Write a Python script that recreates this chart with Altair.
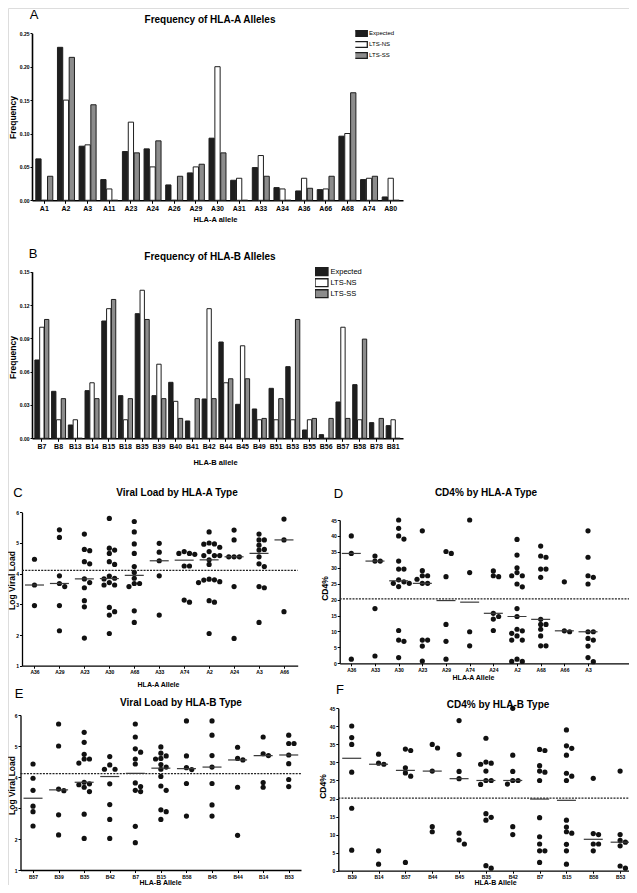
import json
import altair as alt
import pandas as pd

FONT = "Liberation Sans"
W, H = 621, 877

SERIES = ["Expected", "LTS-NS", "LTS-SS"]
SERIES_COLORS = ["#1e1e1e", "#ffffff", "#8c8c8c"]

# ---------------- Panel A : HLA-A allele frequencies ----------------
A_alleles = ["A1", "A2", "A3", "A11", "A23", "A24", "A26", "A29", "A30", "A31",
             "A33", "A34", "A36", "A66", "A68", "A74", "A80"]
A_expected = [0.062, 0.229, 0.081, 0.031, 0.073, 0.077, 0.023, 0.041, 0.093, 0.030,
              0.049, 0.019, 0.014, 0.016, 0.096, 0.031, 0.005]
A_lts_ns = [0.0, 0.150, 0.083, 0.017, 0.117, 0.050, 0.0, 0.050, 0.200, 0.033,
            0.067, 0.017, 0.033, 0.017, 0.100, 0.033, 0.033]
A_lts_ss = [0.036, 0.214, 0.143, 0.0, 0.071, 0.089, 0.036, 0.054, 0.071, 0.0,
            0.036, 0.0, 0.018, 0.036, 0.161, 0.036, 0.0]
A_ticks = [0.0, 0.05, 0.10, 0.15, 0.20, 0.25]

# ---------------- Panel B : HLA-B allele frequencies ----------------
B_alleles = ["B7", "B8", "B13", "B14", "B15", "B18", "B35", "B39", "B40", "B41", "B42",
             "B44", "B45", "B49", "B51", "B53", "B55", "B56", "B57", "B58", "B78", "B81"]
B_expected = [0.0705, 0.0423, 0.012, 0.0429, 0.1056, 0.0384, 0.1122, 0.0384, 0.0504, 0.0156, 0.0354,
              0.0867, 0.0306, 0.0264, 0.0450, 0.0645, 0.0075, 0.0033, 0.0327, 0.0483, 0.0141, 0.0114]
B_lts_ns = [0.100, 0.0167, 0.0167, 0.050, 0.1167, 0.0167, 0.1333, 0.0667, 0.0333, 0.0, 0.1167,
            0.050, 0.0833, 0.0167, 0.0167, 0.0167, 0.0167, 0.0, 0.100, 0.0167, 0.0, 0.0167]
B_lts_ss = [0.107, 0.0357, 0.0, 0.0357, 0.125, 0.0357, 0.107, 0.0357, 0.0179, 0.0357, 0.0357,
            0.0536, 0.0536, 0.0179, 0.0357, 0.107, 0.0179, 0.0179, 0.0179, 0.0893, 0.0179, 0.0]
B_ticks = [0.0, 0.03, 0.06, 0.09, 0.12, 0.15]

# ---------------- Panel C : viral load by HLA-A ----------------
C_alleles = ["A36", "A29", "A23", "A30", "A68", "A33", "A74", "A2", "A24", "A3", "A66"]
C_values = [
    [4.47, 3.63, 2.96],
    [5.43, 5.18, 3.93, 3.68, 3.58, 2.96, 2.14],
    [5.29, 4.79, 4.75, 4.39, 4.32, 3.83, 3.71, 3.54, 3.12, 2.92, 1.90],
    [5.80, 4.83, 4.77, 4.66, 4.39, 4.30, 3.92, 3.85, 3.83, 3.71, 3.63, 3.63, 2.90, 2.76, 2.65, 2.05],
    [5.70, 5.36, 4.97, 4.66, 4.23, 4.04, 3.85, 3.68, 3.68, 3.58, 2.79, 2.41],
    [4.99, 4.70, 4.42, 3.93, 2.65],
    [4.72, 4.66, 4.66, 4.63, 4.25, 4.25, 3.14, 3.07],
    [5.36, 5.00, 4.97, 4.96, 4.86, 4.72, 4.59, 4.59, 4.59, 4.45, 4.30, 3.82, 3.80, 3.79, 3.74, 3.71, 3.12, 3.07, 2.05],
    [5.42, 5.10, 4.55, 4.55, 4.55, 3.58, 1.89],
    [5.29, 5.10, 5.10, 4.93, 4.79, 4.77, 4.55, 4.32, 4.23, 3.58, 3.54, 2.41],
    [5.78, 5.10, 2.76],
]
C_cutoff = 4.11
VL_ticks = [1, 2, 3, 4, 5, 6]

# ---------------- Panel D : CD4% by HLA-A ----------------
D_alleles = ["A36", "A33", "A30", "A23", "A29", "A74", "A24", "A2", "A68", "A66", "A3"]
D_values = [
    [40.0, 34.5, 1.3],
    [33.7, 32.1, 32.1, 17.2, 2.3],
    [45.0, 42.4, 40.0, 39.0, 32.1, 29.6, 29.6, 26.2, 25.6, 25.1, 25.1, 24.1, 10.3, 7.3, 6.9, 1.8],
    [41.6, 29.1, 27.5, 27.5, 26.4, 25.1, 25.1, 7.3, 7.3, 5.4, 0.7],
    [35.1, 34.5, 27.2, 12.2, 6.9, 1.3],
    [45.0, 28.5, 9.9, 5.5],
    [29.0, 27.5, 27.2, 15.7, 14.7, 13.9, 10.3],
    [38.9, 34.0, 30.0, 28.5, 27.5, 27.5, 24.9, 24.0, 17.2, 14.7, 10.7, 10.2, 9.4, 8.6, 7.3, 7.3, 1.3, 0.6, 0.6],
    [36.8, 33.7, 33.3, 29.6, 29.6, 27.0, 13.8, 12.2, 12.2, 10.7, 8.6, 5.5, 5.5],
    [25.6, 10.2, 9.9],
    [41.6, 33.3, 27.5, 27.0, 24.9, 9.9, 9.9, 7.8, 7.3, 5.4, 1.8, 0.5],
]
D_cutoff = 20.2
CD4_ticks = [0, 5, 10, 15, 20, 25, 30, 35, 40, 45]

# ---------------- Panel E : viral load by HLA-B ----------------
E_alleles = ["B57", "B39", "B35", "B42", "B7", "B15", "B58", "B45", "B44", "B14", "B53"]
E_values = [
    [4.42, 3.96, 3.57, 3.06, 2.88, 2.42],
    [5.71, 5.00, 3.61, 3.56, 2.78, 2.13],
    [5.44, 5.12, 4.73, 4.58, 4.58, 4.45, 3.83, 3.78, 3.75, 3.67, 3.53, 2.80, 2.02],
    [4.66, 4.39, 4.25, 4.25, 3.78, 3.11, 2.63, 2.02],
    [5.71, 5.29, 4.91, 4.80, 4.58, 4.42, 3.81, 3.69, 3.57, 3.53, 2.41, 1.88],
    [4.97, 4.77, 4.68, 4.60, 4.58, 4.40, 4.32, 4.25, 4.02, 3.71, 3.57, 2.94, 2.88, 2.63],
    [5.81, 4.68, 4.30, 4.24, 3.79, 2.74],
    [5.81, 5.35, 4.69, 4.32, 3.79, 3.10, 2.74],
    [4.96, 4.60, 4.55, 3.67, 2.12],
    [5.29, 4.75, 4.69, 3.82, 3.67],
    [5.35, 5.08, 5.08, 4.71, 4.43, 3.92, 3.69],
]
E_cutoff = 4.11

# ---------------- Panel F : CD4% by HLA-B ----------------
F_alleles = ["B39", "B14", "B57", "B44", "B45", "B35", "B42", "B7", "B15", "B58", "B53"]
F_values = [
    [40.1, 36.9, 35.0, 27.3, 17.3, 5.7],
    [32.3, 29.8, 29.5, 5.5, 1.8],
    [33.7, 33.3, 28.5, 27.1, 26.2, 2.3],
    [35.0, 34.0, 27.6, 12.2, 10.8],
    [41.6, 32.2, 27.5, 25.5, 10.4, 8.5, 7.4],
    [36.7, 30.1, 29.8, 29.5, 27.6, 25.0, 25.0, 23.9, 15.8, 14.8, 14.0, 1.4, 0.7],
    [45.0, 32.0, 27.5, 25.0, 25.0, 24.0, 12.2, 10.0],
    [33.6, 33.3, 29.1, 27.6, 27.3, 25.0, 14.7, 9.4, 7.4, 5.5, 5.5, 2.3],
    [39.0, 34.6, 33.9, 32.0, 27.0, 26.2, 25.0, 14.0, 12.1, 10.8, 10.4, 7.3, 5.5, 1.8],
    [25.6, 10.3, 10.0, 7.4, 7.4, 5.5],
    [27.6, 10.0, 8.4, 7.9, 6.9, 1.3, 0.7],
]
F_cutoff = 20.1

AX = dict(grid=False, domainColor="black", tickColor="black", labelColor="black",
          titleColor="black", labelFont=FONT, titleFont=FONT, labelFontWeight="bold",
          titleFontWeight="bold")


def bar_panel(alleles, e, ns, ss, xr, yr, ydom, yticks, pi, po, xtitle, xt_pos, yt_pos,
              leg_xy, leg_font, leg_size, leg_path, leg_offset, leg_row):
    rows = []
    for i, a in enumerate(alleles):
        for s, v in zip(SERIES, (e[i], ns[i], ss[i])):
            rows.append({"allele": a, "series": s, "freq": v})
    df = pd.DataFrame(rows)
    x = alt.X("allele:N", sort=alleles,
              scale=alt.Scale(range=list(xr), paddingInner=pi, paddingOuter=po),
              axis=alt.Axis(orient="bottom", offset=yr[0] - H, title=xtitle, labelAngle=0,
                            labelFontSize=7, tickSize=3, tickWidth=1, domainWidth=1.6,
                            labelPadding=1.5, titleFontSize=7.5, titleX=xt_pos[0],
                            titleY=xt_pos[1] - yr[0], titleAlign="center",
                            titleBaseline="middle", **AX))
    y = alt.Y("freq:Q",
              scale=alt.Scale(domain=list(ydom), range=[yr[0], yr[1]], nice=False, zero=True),
              axis=alt.Axis(orient="left", offset=-xr[0], values=yticks, format=".2f",
                            title="Frequency", labelFontSize=5, tickSize=2, domainWidth=1.6,
                            labelPadding=1, titleFontSize=8.5, titleAngle=270,
                            titleX=yt_pos[0] - xr[0], titleY=yt_pos[1], titleAlign="center",
                            titleBaseline="middle", **AX))
    xo = alt.XOffset("series:N", sort=SERIES, scale=alt.Scale(paddingInner=0.1))
    color = alt.Color("series:N", sort=SERIES,
                      scale=alt.Scale(domain=SERIES, range=SERIES_COLORS),
                      legend=alt.Legend(orient="none", legendX=leg_xy[0], legendY=leg_xy[1],
                                        title=None, symbolType=leg_path, symbolSize=leg_size,
                                        symbolStrokeColor="#1e1e1e", symbolStrokeWidth=1.3,
                                        labelFont=FONT, labelFontSize=leg_font,
                                        labelColor="black", labelOffset=leg_offset,
                                        clipHeight=leg_row, rowPadding=0, padding=0))
    return alt.Chart(df).mark_bar(stroke="#1e1e1e", strokeWidth=1).encode(
        x=x, y=y, xOffset=xo, color=color)


def swarm(vals, ppu, step, gap=5.3, diam=4.6):
    placed, out = [], []
    for v in vals:
        yy = v * ppu
        xx = 0.0
        for k in [0, 1, -1, 2, -2, 3, -3, 4, -4]:
            xx = k * gap
            if all((xx - px) ** 2 + (yy - py) ** 2 >= diam ** 2 for px, py in placed):
                break
        placed.append((xx, yy))
        out.append(xx / step)
    return out


def scatter_panel(alleles, values, cutoff, xr, xdom, yr, ydom, yticks, ytitle, yt_pos,
                  xtitle, xt_pos):
    step = (xr[1] - xr[0]) / (xdom[1] - xdom[0])
    ppu = abs(yr[0] - yr[1]) / (ydom[1] - ydom[0])
    rows = []
    for i, (a, vals) in enumerate(zip(alleles, values)):
        for v, d in zip(vals, swarm(vals, ppu, step)):
            rows.append({"allele": a, "idx": i, "xpos": i + d, "value": v})
    df = pd.DataFrame(rows)

    def xs():
        return alt.Scale(domain=list(xdom), range=list(xr), nice=False, zero=False)

    def ys():
        return alt.Scale(domain=list(ydom), range=[yr[0], yr[1]], nice=False, zero=False)

    x_axis = alt.Axis(orient="bottom", offset=yr[0] - H, values=list(range(len(alleles))),
                      labelExpr=json.dumps(alleles) + "[datum.value]", title=xtitle,
                      labelFontSize=5, tickSize=2.5, domainWidth=1.3, labelPadding=1.5,
                      titleFontSize=7, titleX=xt_pos[0], titleY=xt_pos[1] - yr[0],
                      titleAlign="center", titleBaseline="middle", **AX)
    y_axis = alt.Axis(orient="left", offset=-xr[0], values=yticks, title=ytitle,
                      labelFontSize=5, tickSize=2.5, domainWidth=1.3, labelPadding=1,
                      titleFontSize=8.5, titleAngle=270, titleX=yt_pos[0] - xr[0],
                      titleY=yt_pos[1], titleAlign="center", titleBaseline="middle", **AX)
    pts = alt.Chart(df).mark_circle(size=27, color="#111111", opacity=1).encode(
        x=alt.X("xpos:Q", scale=xs(), axis=x_axis),
        y=alt.Y("value:Q", scale=ys(), axis=y_axis))
    cut = alt.Chart(pd.DataFrame({"cut": [cutoff], "x0": [xdom[0]], "x1": [xdom[1]]})).mark_rule(
        strokeDash=[2, 1.2], strokeWidth=1.2, color="#222222").encode(
        y=alt.Y("cut:Q", scale=ys(), axis=None),
        x=alt.X("x0:Q", scale=xs(), axis=None),
        x2="x1:Q")
    med = alt.Chart(df).mark_tick(orient="horizontal", size=19, thickness=1.2,
                                  color="#3a3a3a", opacity=1).encode(
        x=alt.X("idx:Q", scale=xs(), axis=None),
        y=alt.Y("median(value):Q", scale=ys(), axis=None))
    return [pts, cut, med]


def text(t, x, y, size, weight="bold"):
    return alt.Chart(pd.DataFrame({"t": [t]})).mark_text(
        font=FONT, fontSize=size, fontWeight=weight, color="black",
        align="center", baseline="middle").encode(
        text="t:N", x=alt.value(x), y=alt.value(y))


panelA = bar_panel(A_alleles, A_expected, A_lts_ns, A_lts_ss, xr=(24, 395), yr=(192.3, 25.3),
                   ydom=(0, 0.25), yticks=A_ticks, pi=0.215, po=0.176, xtitle="HLA-A allele",
                   xt_pos=(207, 211), yt_pos=(4.5, 109), leg_xy=(347.3, 20.3), leg_font=6,
                   leg_size=90, leg_path="M-1.37,-0.6H1.37V0.6H-1.37Z", leg_offset=2.8,
                   leg_row=10.3)
panelB = bar_panel(B_alleles, B_expected, B_lts_ns, B_lts_ss, xr=(24, 395), yr=(430.3, 263.7),
                   ydom=(0, 0.15), yticks=B_ticks, pi=0.163, po=0.17, xtitle="HLA-B allele",
                   xt_pos=(207, 454), yt_pos=(4.5, 349), leg_xy=(307, 258.2), leg_font=7.5,
                   leg_size=121, leg_path="M-1.18,-0.72H1.18V0.72H-1.18Z", leg_offset=2.5,
                   leg_row=11)
panelC = scatter_panel(C_alleles, C_values, C_cutoff, xr=(14, 289.7), xdom=(-0.5, 10.55),
                       yr=(657.7, 504.3), ydom=(1, 6), yticks=VL_ticks, ytitle="Log Viral Load",
                       yt_pos=(3.2, 572), xtitle="HLA-A Allele", xt_pos=(150, 676))
panelD = scatter_panel(D_alleles, D_values, D_cutoff, xr=(331.7, 625), xdom=(-0.49, 11.9),
                       yr=(655.3, 512), ydom=(0, 45), yticks=CD4_ticks, ytitle="CD4%",
                       yt_pos=(316, 580), xtitle="HLA-A Allele", xt_pos=(465, 669.5))
panelE = scatter_panel(E_alleles, E_values, E_cutoff, xr=(12.5, 293), xdom=(-0.49, 10.48),
                       yr=(862, 707), ydom=(1, 6), yticks=VL_ticks, ytitle="Log Viral Load",
                       yt_pos=(3.2, 777), xtitle="HLA-B Allele", xt_pos=(152, 874))
panelF = scatter_panel(F_alleles, F_values, F_cutoff, xr=(330.3, 625), xdom=(-0.5, 10.48),
                       yr=(862.7, 700.3), ydom=(0, 45), yticks=CD4_ticks, ytitle="CD4%",
                       yt_pos=(314, 778), xtitle="HLA-B Allele", xt_pos=(487, 874))

texts = [
    text("A", 26, 7, 13, "normal"),
    text("Frequency of HLA-A Alleles", 202, 12, 10),
    text("B", 25, 246, 13, "normal"),
    text("Frequency of HLA-B Alleles", 202, 249, 10),
    text("C", 10, 485, 13, "normal"),
    text("Viral Load by HLA-A Type", 169, 485, 10),
    text("D", 330.5, 486, 13, "normal"),
    text("CD4% by HLA-A Type", 478, 485, 10),
    text("E", 11, 686, 13, "normal"),
    text("Viral Load by HLA-B Type", 173, 695, 10),
    text("F", 332, 682, 13, "normal"),
    text("CD4% by HLA-B Type", 490, 697, 10),
]

layers = [panelA, panelB] + panelC + panelD + panelE + panelF + texts

chart = alt.layer(*layers).resolve_scale(
    x="independent", y="independent", color="independent", xOffset="independent"
).resolve_axis(x="independent", y="independent").resolve_legend(color="independent").properties(
    width=W, height=H, padding=0, autosize=alt.AutoSizeParams(type="none")
).configure_view(stroke=None).configure(background="white")

chart.save("out.html", embed_options={"renderer": "svg", "actions": False})
